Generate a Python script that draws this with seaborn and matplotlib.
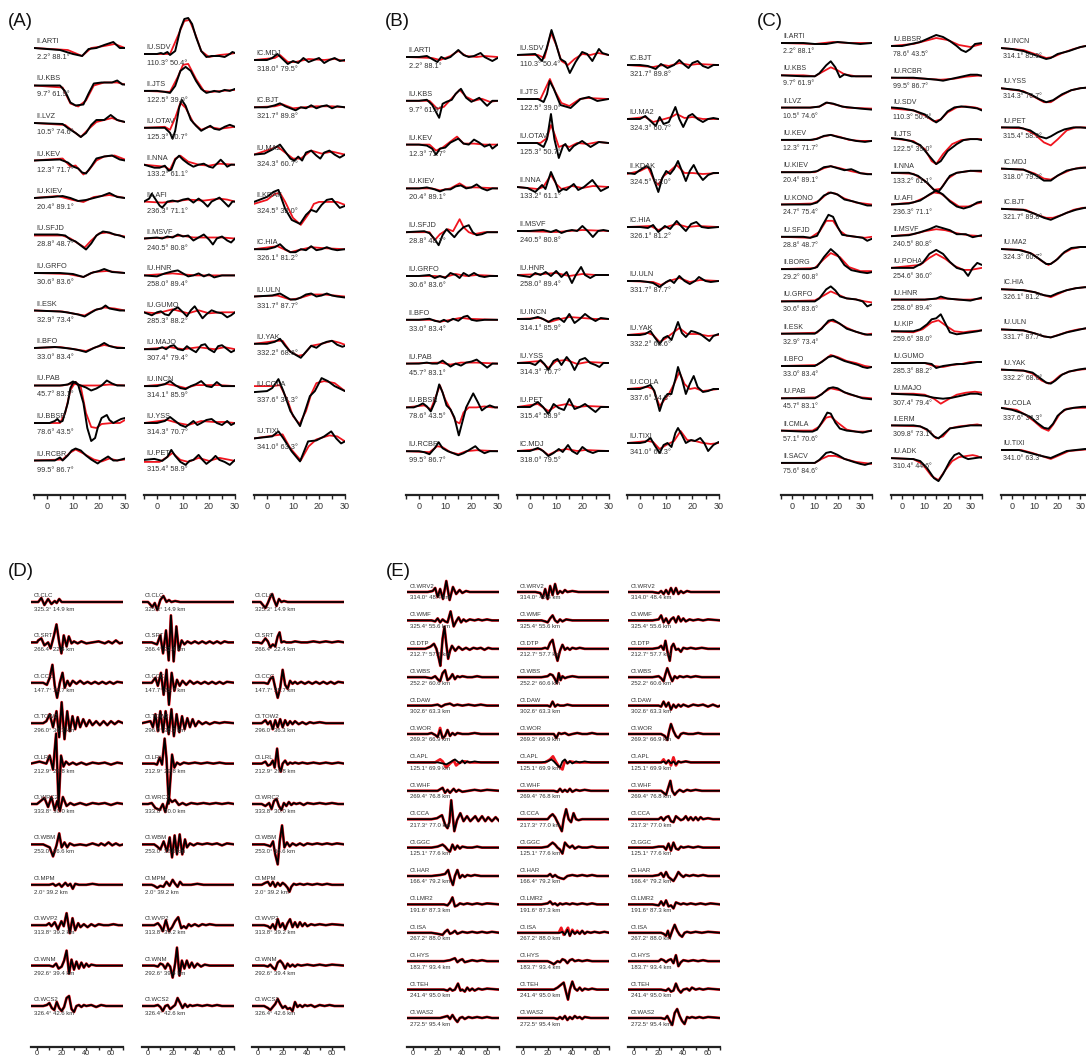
import numpy as np
import pandas as pd
import matplotlib
matplotlib.use("Agg")
import matplotlib.pyplot as plt
import matplotlib.transforms as mtransforms
from matplotlib.ticker import MultipleLocator
import seaborn as sns

sns.set_style("white")
plt.rcParams['font.family'] = ['Liberation Sans', 'DejaVu Sans']

# ---------------- panel A (time s, amplitude) ----------------
A1_sta = ["II.ARTI", "IU.KBS", "II.LVZ", "IU.KEV", "IU.KIEV", "IU.SFJD", "IU.GRFO", "II.ESK", "II.BFO", "IU.PAB", "IU.BBSR", "IU.RCBR"]
A1_lab = ["2.2° 88.1°", "9.7° 61.9°", "10.5° 74.6°", "12.3° 71.7°", "20.4° 89.1°", "28.8° 48.7°", "30.6° 83.6°", "32.9° 73.4°", "33.0° 83.4°", "45.7° 83.1°", "78.6° 43.5°", "99.5° 86.7°"]
A1_obs = [
    [(-5,0),(5,-2),(10,-6),(13.5,-8),(16,-1),(19,0),(22,3),(25.5,6),(28,0),(30,0)],
    [(-5,0),(5,0),(7,-6),(9,-17),(11,-20),(14,-19),(16,-8),(18,2),(21,3),(25,3),(27,5),(29,1),(30,1)],
    [(-5,0),(6,-1),(8,-5),(11,-10),(13,-14),(15,-10),(17,-2),(19,3),(22,3),(24.5,8),(27,3),(30,1)],
    [(-5,0),(5,1),(8,-2),(10,-6),(12,-8),(13.5,-12),(15,-13),(17,-6),(19,2),(22,4),(25,5),(28,1),(30,0)],
    [(-5,0),(2,1),(6,2),(9,0),(12,-3),(15,-2),(18,0),(21,2),(24,5),(27,1),(30,0)],
    [(-5,1),(4,1),(7,0),(9,-4),(11,-6),(13,-10),(15,-14),(17,-8),(19,0),(21.5,4),(24,3),(26,1),(28,0),(30,-2)],
    [(-5,0),(5,0),(10,-1),(14,-4),(17,0),(20,2),(22,4),(25,1),(30,0)],
    [(-5,0),(5,-1),(8,-2),(10,-3),(12,-4),(14.5,-6),(17,-2),(19,1),(21,2),(22.5,5),(24,2),(26,1),(28,0),(30,0)],
    [(-5,0),(3,1),(7,0),(10,-1),(12,-2),(15,-4),(18,0),(20,2),(22,5),(24,2),(27,0),(30,0)],
    [(-5,0),(5,0),(8,1),(10,4),(12,1),(15,-2),(17,-5),(19,-3),(21,0),(23,5),(25,2),(27,0),(30,0)],
    [(-5,0),(1,0),(3,2),(4,4),(5,1),(6,2),(8,20),(9,35),(10,40),(11,41),(12,38),(14,20),(15.5,-5),(17,-18),(18.5,-15),(19.5,-5),(21,5),(23,8),(24,3),(25.5,0),(27,2),(28.5,4),(30,5)],
    [(-5,0),(3,0),(5,3),(6,0),(8,5),(9.5,10),(11,12),(13,10),(15,5),(17,1),(19.5,-3),(21,0),(23.5,4),(25.5,0),(27,0),(30,2)],
]
A1_syn = [
    [(-5,0),(8,-2),(13.5,-8),(17,0),(22,2),(26,4),(30,0)],
    [(-5,0),(6,-2),(9,-18),(12,-21),(15,-15),(18,0),(22,3),(27,3),(30,1)],
    [(-5,0),(7,-2),(10,-8),(13,-14),(16,-6),(19,1),(22,3),(25,5),(28,2),(30,1)],
    [(-5,0),(6,2),(9,-6),(11,-5),(14,-14),(16,-10),(19,0),(22,4),(26,5),(30,1)],
    [(-5,0),(4,2),(10,-2),(14,-4),(18,1),(24,3),(30,0)],
    [(-5,0),(6,0),(9,-3),(12,-8),(14.5,-12),(17,-5),(20,2),(23,3),(26,1),(30,-1)],
    [(-5,0),(8,-1),(14,-4),(18,1),(23,2),(30,0)],
    [(-5,0),(6,-1),(10,-3),(14.5,-5),(18,0),(22,3),(26,2),(30,0)],
    [(-5,0),(5,1),(10,-1),(15,-3),(19,1),(22,3),(26,1),(30,0)],
    [(-5,0),(6,0),(10,2),(13,0),(20,0),(24,1),(30,0)],
    [(-5,0),(5,0),(7,10),(9,33),(11,41),(13,36),(15,10),(17,-4),(19,-5),(21,-1),(25,0),(28,0),(30,3)],
    [(-5,0),(6,1),(9,8),(11,11),(14,7),(18,1),(21,-1),(24,2),(27,0),(30,1)],
]
A2_sta = ["IU.SDV", "II.JTS", "IU.OTAV", "II.NNA", "IU.AFI", "II.MSVF", "IU.HNR", "IU.GUMO", "IU.MAJO", "IU.INCN", "IU.YSS", "IU.PET"]
A2_lab = ["110.3° 50.4°", "122.5° 39.0°", "125.3° 50.7°", "133.2° 61.1°", "236.3° 71.1°", "240.5° 80.8°", "258.0° 89.4°", "285.3° 88.2°", "307.4° 79.4°", "314.1° 85.9°", "314.3° 70.7°", "315.4° 58.9°"]
A2_obs = [
    [(-5,0),(0,0),(1.5,1),(2.5,0),(4,2),(5,-1),(7,3),(9,25),(10.5,35),(12,36),(13.5,30),(15,17),(17,3),(19,-3),(21,-2),(24,-2),(26,-3),(28,0),(29,2),(30,1)],
    [(-5,0),(0,0),(3,-1),(5,-2),(7,5),(9,20),(11,24),(13,20),(15,10),(17,2),(19,-2),(22,0),(24,-1),(26,1),(28,0),(30,2)],
    [(-5,0),(0,0),(3,0),(5,-5),(6,-11),(7,-3),(8.5,20),(9.5,28),(11,22),(13,8),(15,2),(17,-3),(19,0),(20.5,2),(22,-1),(24,-2),(26,1),(28,3),(30,1)],
    [(-5,0),(-1,-3),(1,-3),(3,-1),(4.5,-6),(5.5,-5),(7,5),(8.5,9),(10,5),(12,1),(14,-2),(16,0),(18,1),(20,-2),(21.5,-3),(23,1),(24.5,5),(26,1),(27,-2),(28.5,0),(30,0)],
    [(-5,0),(-3,3),(-2,8),(-1,4),(1,-4),(2,-6),(4,0),(6,1),(8,0),(10,2),(12,3),(14,-1),(16,3),(18,-1),(19.5,-5),(21,0),(22.5,2),(24,4),(26,-1),(27.5,-5),(29,0),(30,0)],
    [(-5,0),(0,1),(2,0),(4,2),(6,1),(8,4),(10,2),(12,3),(14,-2),(16,1),(18,4),(20,-1),(21.5,-6),(23,0),(25,2),(27,-2),(28.5,-4),(30,0)],
    [(-5,0),(0,-1),(3,2),(6,4),(8,5),(10,2),(12,-1),(14,0),(16,2),(18,-1),(20,1),(22,-2),(25,0),(30,0)],
    [(-5,0),(-2,-3),(0,0),(1.5,1),(3,-2),(4.5,-3),(6,2),(8,5),(10,0),(11.5,-4),(13,2),(14.5,6),(16,0),(17.5,-6),(19,-2),(21,2),(23,0),(25,-1),(27,-5),(28.5,-3),(30,0)],
    [(-5,0),(0,0),(2,2),(3.5,0),(5,3),(6.5,4),(8,0),(10,-1),(11.5,3),(13,0),(15,-3),(17,4),(18.5,5),(20,0),(22,-3),(23.5,3),(25,4),(27,0),(28.5,-3),(30,-1)],
    [(-5,0),(0,0),(3,2),(5,5),(7,1),(9,-2),(11,-3),(13,0),(15,2),(17,5),(19,0),(21,-1),(23,4),(25,0),(27,0),(30,0)],
    [(-5,0),(0,0),(3,2),(5,6),(7,2),(9,-2),(11,-4),(12.5,-1),(14,2),(15.5,-2),(17,0),(19,3),(21,4),(23,0),(25,-2),(27,2),(28.5,-2),(30,0)],
    [(-5,0),(-1,1),(2,-1),(4,3),(5.5,10),(7,4),(9,-2),(11,-5),(12.5,-1),(14,0),(16,5),(17.5,0),(19,-4),(21,0),(22.5,4),(24,0),(26,-2),(28,-5),(30,0)],
]
A2_syn = [
    [(-5,0),(5,0),(8,18),(10.5,33),(12.5,34),(15,18),(17,3),(20,-3),(24,-1),(28,0),(30,1)],
    [(-5,0),(5,-1),(8,14),(10,26),(12,27),(15,12),(18,0),(21,-1),(25,0),(30,1)],
    [(-5,0),(3,1),(5,-2),(7,10),(9,25),(11,20),(14,5),(17,-2),(20,1),(24,-1),(30,1)],
    [(-5,0),(3,-2),(5,-5),(7,6),(9,9),(12,3),(16,0),(20,-1),(24,1),(30,0)],
    [(-5,0),(2,-1),(6,0),(12,2),(18,1),(24,3),(27,2),(30,0)],
    [(-5,0),(4,1),(9,3),(14,1),(19,1),(25,1),(30,0)],
    [(-5,0),(6,2),(10,1),(15,0),(20,0),(30,0)],
    [(-5,0),(0,-1),(6,3),(12,-1),(16,2),(20,-1),(25,0),(30,0)],
    [(-5,0),(5,2),(10,0),(16,2),(22,0),(26,2),(30,0)],
    [(-5,0),(4,2),(8,0),(11,-2),(15,1),(19,1),(24,1),(30,0)],
    [(-5,0),(4,3),(8,0),(12,-2),(17,2),(22,1),(26,1),(30,0)],
    [(-5,-2),(1,-2),(4,3),(6,7),(9,0),(12,-2),(16,2),(20,-1),(24,2),(30,-1)],
]
A3_sta = ["IC.MDJ", "IC.BJT", "IU.MA2", "II.KDAK", "IC.HIA", "IU.ULN", "IU.YAK", "IU.COLA", "IU.TIXI"]
A3_lab = ["318.0° 79.5°", "321.7° 89.8°", "324.3° 60.7°", "324.5° 32.0°", "326.1° 81.2°", "331.7° 87.7°", "332.2° 68.6°", "337.6° 34.3°", "341.0° 63.3°"]
A3_obs = [
    [(-5,0),(0,0),(2,2),(4,6),(6,1),(8,-4),(10,-1),(12,-3),(14,2),(16,-2),(18,0),(20,2),(22,-3),(24,0),(26,2),(28,-1),(30,0)],
    [(-5,0),(0,0),(3,2),(5,4),(7,1),(9,-1),(11,-3),(13,0),(15,-1),(17,2),(19,-1),(21,1),(23,2),(25,-1),(27,1),(30,0)],
    [(-5,0),(-1,1),(2,5),(5,10),(7,3),(9,-4),(10.5,-6),(12,-2),(13.5,-6),(15,2),(17,4),(19,-1),(20.5,-4),(22,2),(24,4),(26,0),(28,-3),(30,0)],
    [(-5,0),(0,5),(2.5,10),(4.4,12),(7,-7),(9.5,-18),(12.7,-22),(15,-13),(17,-8),(19,-10),(21,-3),(23,2),(25,3),(28,-6),(30,-4)],
    [(-5,0),(0,0),(3,2),(5,5),(7,0),(9,-3),(11,-3),(13,0),(15,-1),(17,3),(19,-1),(21,0),(23,2),(25,0),(27,-1),(30,0)],
    [(-5,0),(2,1),(5,3),(7,0),(9,-3),(11,-3),(13,-1),(15,2),(17,3),(19,0),(21,1),(23,3),(25,1),(27,0),(30,-1)],
    [(-5,0),(0,0),(3,2),(5,5),(7,-2),(9,-8),(11,-11),(13,-14),(15,-8),(17,-2),(19,-4),(21,0),(23,2),(25,3),(27,-1),(29,-3),(30,-2)],
    [(-5,-1),(0,0),(2,3),(4.4,12),(6.3,0),(9,-20),(12.7,-35),(15,-17),(16.5,-5),(18.4,0),(21,13),(23.4,10),(26,5),(30,0)],
    [(-5,0),(2,2),(4.4,7),(6.3,0),(9.5,-13),(12.7,-23),(15.8,-3),(19,-2),(22,2),(24.7,7),(26.6,0),(28.5,-5),(30,-3)],
]
A3_syn = [
    [(-5,0),(3,2),(5,5),(8,-2),(11,-2),(16,1),(22,0),(26,1),(30,-1)],
    [(-5,0),(3,1),(6,3),(10,-1),(14,0),(19,1),(25,1),(30,0)],
    [(-5,0),(2,6),(4,8),(7,2),(10,-4),(13,-4),(17,4),(21,1),(25,3),(30,0)],
    [(-5,-2),(0,2),(3,8),(5,9),(7,0),(10,-16),(13,-23),(16,-12),(18,-2),(20,0),(24,0),(27,0),(30,-3)],
    [(-5,0),(4,3),(9,-3),(12,-1),(17,2),(22,1),(30,0)],
    [(-5,0),(4,1),(9,-3),(12,-2),(17,2),(22,2),(26,1),(30,0)],
    [(-5,0),(4,3),(6,3),(9,-8),(12,-12),(14,-11),(17,-2),(21,0),(25,3),(28,1),(30,-1)],
    [(-5,5),(2,5),(5,6),(8,-10),(10,-25),(12.5,-33),(15,-20),(17,-3),(19,8),(22,10),(26,8),(30,0)],
    [(-5,0),(3,3),(6,4),(9,-10),(13,-22),(16,-8),(19,-1),(24,3),(27,2),(30,-3)],
]

# ---------------- panel B ----------------
B1_sta = ["II.ARTI", "IU.KBS", "IU.KEV", "IU.KIEV", "IU.SFJD", "IU.GRFO", "II.BFO", "IU.PAB", "IU.BBSR", "IU.RCBR"]
B1_lab = ["2.2° 88.1°", "9.7° 61.9°", "12.3° 71.7°", "20.4° 89.1°", "28.8° 48.7°", "30.6° 83.6°", "33.0° 83.4°", "45.7° 83.1°", "78.6° 43.5°", "99.5° 86.7°"]
B1_obs = [
    [(-5,0),(0,0),(3,1),(5,-2),(7,-5),(8.5,0),(10,-2),(12,0),(15,7),(17,2),(19,0),(21,1),(23.5,4),(25,0),(28,-4),(30,-1)],
    [(-5,0),(0,0),(3,1),(5,-4),(7.7,-17),(9,-3),(10.5,-1),(12.5,1),(14,7),(16,12),(18,3),(20,-1),(23,3),(26,-5),(28,0),(30,0)],
    [(-5,0),(0,0),(3,-1),(5,-4),(6.5,-10),(8,-4),(10,-3),(12,2),(15,6),(17,1),(19,0),(21,5),(23,2),(25,-2),(27,0),(28,-4),(30,0)],
    [(-5,0),(0,0),(3,1),(6,-1),(8,-3),(10,-1),(12,-1),(14,2),(16,3),(18,0),(20,1),(22,4),(24,0),(26,-2),(28,0),(30,0)],
    [(-5,0),(2,1),(4,-1),(6,-7),(7.5,-13),(9,-3),(10.5,3),(12,-1),(13.5,-5),(15,0),(17,5),(19,7),(20.5,0),(22,-3),(24,-2),(26,0),(30,0)],
    [(-5,0),(0,0),(4,1),(6,-2),(8,0),(10,-2),(12,3),(14,1),(15.5,-2),(17,3),(19,0),(21,3),(23,0),(25,-1),(27,0),(30,0)],
    [(-5,0),(0,0),(4,1),(6,-1),(8,-2),(9.5,0),(11,-2),(13,1),(15,-1),(17,3),(18.5,4),(20,0),(22,-1),(25,0),(30,0)],
    [(-5,0),(0,0),(3,1),(5,0),(7,0),(9,3),(10.5,0),(12,-3),(14,0),(16,-2),(18,1),(20,2),(22,4),(24,0),(26,-4),(28,0),(30,0)],
    [(-5,0),(-2,0),(0,2),(1.5,4),(3,1),(4.5,-4),(6,5),(7.7,23),(9,15),(10.5,2),(12,-2),(13.5,-10),(15.2,-28),(16.5,-15),(18,0),(20.7,14),(22.5,5),(24,-3),(25.5,0),(27,2),(29,0),(30,0)],
    [(-5,0),(0,0),(2,-1),(4,-3),(6,3),(7.5,9),(9,3),(11,0),(13,-2),(15,-4),(17,-2),(19,1),(21.5,5),(23,1),(25,-2),(27,0),(30,0)],
]
B1_syn = [
    [(-5,0),(5,-1),(8,-3),(12,1),(15,6),(18,1),(22,0),(25,1),(30,0)],
    [(-5,0),(4,0),(7,-8),(9.5,-6),(12,1),(15.5,11),(18,4),(21,0),(24,2),(27,-1),(30,0)],
    [(-5,0),(4,0),(6.5,-6),(9,-3),(12,3),(14.5,8),(17,1),(21,1),(25,0),(30,0)],
    [(-5,0),(5,0),(8,-2),(12,0),(15.5,5),(18,1),(22,1),(30,0)],
    [(-5,0),(4,0),(6,-8),(8,-2),(11,3),(13,1),(15.5,13),(17,5),(19,0),(21,-2),(25,0),(30,0)],
    [(-5,0),(6,0),(10,-1),(14,2),(18,0),(22,1),(30,0)],
    [(-5,0),(5,0),(8,-2),(12,0),(16,2),(19,1),(30,0)],
    [(-5,0),(8,1),(12,-1),(16,1),(22,1),(30,0)],
    [(-5,0),(2,2),(4.5,-2),(6,8),(8,22),(10,8),(12,-2),(14,-14),(15.5,-16),(17,-5),(19,0),(22,0),(25,1),(28,0),(30,0)],
    [(-5,0),(4,-1),(7,5),(9,4),(12,-1),(15,-3),(18,0),(22,1),(30,0)],
]
B2_sta = ["IU.SDV", "II.JTS", "IU.OTAV", "II.NNA", "II.MSVF", "IU.HNR", "IU.INCN", "IU.YSS", "IU.PET", "IC.MDJ"]
B2_lab = ["110.3° 50.4°", "122.5° 39.0°", "125.3° 50.7°", "133.2° 61.1°", "240.5° 80.8°", "258.0° 89.4°", "314.1° 85.9°", "314.3° 70.7°", "315.4° 58.9°", "318.0° 79.5°"]
B2_obs = [
    [(-5,0),(2,1),(4.6,-6),(6.3,6),(8.2,25),(9.7,13),(11.6,-4),(13.5,-7),(15.2,-18),(17.4,-7),(19.9,3),(21.8,1),(23.8,-6),(26.3,6),(27.6,2),(30,0)],
    [(-5,0),(3,0),(5.2,-3),(6.5,5),(7.5,18),(9.1,10),(11.6,-6),(15.5,-9),(19.3,0),(22.5,2),(25.7,-2),(30,0)],
    [(-5,0),(2.7,0),(5.2,-4),(6.5,4),(8,29),(9.3,4),(11,-15),(12.6,-3),(13.5,-1),(15,-8),(16.7,-3),(19.9,2),(23.1,-4),(26.3,1),(30,0)],
    [(-5,0),(-1,-1),(2,-5),(4.6,2),(5.9,-2),(8,15),(9.7,5),(11,-5),(12.6,-2),(13.9,-3),(16.7,3),(18.4,-3),(20.6,0),(23.8,7),(27,-4),(30,0)],
    [(-5,0),(0,0),(5,1),(8,-1),(10,1),(12,-2),(14,0),(16,1),(18,0),(20,5),(22,0),(24,-6),(26,0),(28,1),(30,0)],
    [(-5,0),(0,-2),(2,2),(4,0),(6,3),(8,-1),(10,4),(12,-2),(14,3),(16,-8),(17.5,0),(19.5,8),(21,0),(23,-3),(25,0),(28,0),(30,0)],
    [(-5,0),(0,0),(3,2),(5,0),(7,-3),(9,0),(11,1),(13,-3),(15,5),(17,-4),(19,0),(21,5),(23,1),(25,-2),(27,1),(30,0)],
    [(-5,0),(0,0),(2,-2),(4,3),(5.5,-1),(7,-7),(9,2),(10.5,4),(12,-2),(14,6),(15.5,1),(17,-7),(19,3),(21,5),(23,0),(25,-2),(26.5,-4),(28,0),(30,0)],
    [(-5,0),(0,0),(3,5),(5,0),(7,-7),(9,3),(11,-1),(13,-3),(15,8),(17,-2),(19,0),(21,3),(23,-1),(25,-5),(27,0),(30,0)],
    [(-5,0),(0,0),(3,3),(5,0),(7,-5),(9,-2),(11,2),(12.5,-1),(14.5,6),(16,0),(18,-3),(20,4),(22,0),(24,-2),(26,0),(30,0)],
]
B2_syn = [
    [(-5,0),(3,0),(5.5,-3),(8,22),(10,10),(12,-6),(14.5,-10),(17,-4),(20,1),(23,0),(26,2),(30,0)],
    [(-5,0),(4,0),(7.6,20),(9.5,8),(12,-4),(15,-7),(19,0),(22,1),(30,0)],
    [(-5,0),(4,0),(6.5,5),(8,18),(9.5,8),(11,-4),(13,-2),(15,-4),(18,0),(22,-1),(26,1),(30,0)],
    [(-5,0),(3,-2),(5,0),(8,12),(10,3),(12,-2),(16,1),(20,-1),(24,1),(30,0)],
    [(-5,0),(10,-1),(15,0),(20,1),(30,0)],
    [(-5,0),(5,1),(10,2),(15,-1),(20,1),(25,0),(30,0)],
    [(-5,0),(4,1),(7.5,-3),(10,-1),(15,2),(20,1),(25,0),(30,0)],
    [(-5,0),(4,2),(7,-5),(10,2),(14,3),(18,-1),(22,1),(30,0)],
    [(-5,0),(3,3),(7,-4),(10,1),(14,3),(18,0),(22,1),(30,0)],
    [(-5,0),(4,2),(7,-4),(10,0),(14,2),(18,0),(21,1),(30,0)],
]
B3_sta = ["IC.BJT", "IU.MA2", "II.KDAK", "IC.HIA", "IU.ULN", "IU.YAK", "IU.COLA", "IU.TIXI"]
B3_lab = ["321.7° 89.8°", "324.3° 60.7°", "324.5° 32.0°", "326.1° 81.2°", "331.7° 87.7°", "332.2° 68.6°", "337.6° 34.3°", "341.0° 63.3°"]
B3_obs = [
    [(-5,0),(0,0),(3,-1),(6,-4),(8,1),(10.5,-3),(13,0),(15,5),(17,0),(18.5,-3),(20,2),(22,4),(24,-1),(26,-3),(28,0),(30,0)],
    [(-5,0),(0,0),(2,3),(4,-2),(6,-7),(7.5,2),(9,-5),(11,-3),(13.5,12),(15,0),(16.5,-8),(18.5,3),(20,5),(22,0),(24,-3),(26,0),(28,1),(30,0)],
    [(-5,0),(-2,-1),(0,3),(2.5,7),(4,4),(5.5,-8),(7,-19),(8.5,-5),(10,2),(11.5,-1),(13,4),(14.5,12),(16,2),(17.5,-8),(19,2),(20.5,8),(22,0),(24,-7),(26,-2),(28,0),(30,0)],
    [(-5,0),(0,0),(3,-1),(5,2),(7,-5),(9.5,1),(11.5,-2),(14,6),(16,0),(17.5,-4),(19.5,3),(21.5,5),(23.5,0),(26,-1),(30,0)],
    [(-5,0),(0,0),(3,-1),(5,-2),(7.5,-6),(10,-1),(11.5,1),(13,-2),(15,5),(17,0),(19,-3),(21,0),(22.5,4),(25,0),(27,-1),(30,0)],
    [(-5,0),(0,0),(2,1),(4,4),(5.5,-2),(7.5,-9),(9,-3),(10.5,-1),(12,-5),(14.5,13),(16,2),(17.5,-2),(19.5,4),(21,3),(23,1),(25,-3),(26.5,-6),(28,-1),(30,1)],
    [(-5,0),(0,0),(2,2),(4,4),(5.5,-2),(7.5,-22),(9,-10),(10.5,-5),(12,-5),(13.5,10),(14.5,22),(16,10),(17.5,-5),(19,5),(20.5,13),(22,2),(24,-3),(26,-2),(28,0),(30,0)],
    [(-5,0),(0,0),(2,1),(4,5),(5.5,-2),(7.5,-10),(9,-2),(10.5,0),(12,-4),(13.5,10),(14.5,15),(16,8),(17.5,0),(19.5,3),(21,2),(23,5),(24.5,0),(26,-8),(28,-2),(30,1)],
]
B3_syn = [
    [(-5,0),(5,-2),(9,0),(11,-1),(15,2),(19,0),(22,1),(30,0)],
    [(-5,0),(2,2),(5,-3),(8,-1),(12,2),(14,5),(17,1),(20,2),(24,0),(30,0)],
    [(-5,-1),(0,2),(3,6),(5.5,-8),(7,-12),(9,-3),(11,1),(14,8),(17,0),(20,0),(24,-1),(30,0)],
    [(-5,0),(4,1),(7,-3),(10,0),(14,3),(18,0),(22,1),(30,0)],
    [(-5,0),(5,-1),(8,-4),(11,0),(15,3),(19,-1),(23,1),(30,0)],
    [(-5,0),(3,2),(5,0),(7.5,-7),(10,-3),(13,3),(15,7),(18,1),(22,1),(26,-1),(30,0)],
    [(-5,0),(3,2),(5,0),(7.5,-17),(9,-12),(11,-5),(13,5),(15,17),(17,5),(19,0),(21,1),(24,-2),(30,0)],
    [(-5,0),(3,2),(5,1),(7.5,-6),(10,-2),(13,2),(15.5,12),(18,3),(21,2),(24,0),(27,-1),(30,0)],
]

# ---------------- panel C ----------------
C1_sta = ["II.ARTI", "IU.KBS", "II.LVZ", "IU.KEV", "IU.KIEV", "IU.KONO", "IU.SFJD", "II.BORG", "IU.GRFO", "II.ESK", "II.BFO", "IU.PAB", "II.CMLA", "II.SACV"]
C1_lab = ["2.2° 88.1°", "9.7° 61.9°", "10.5° 74.6°", "12.3° 71.7°", "20.4° 89.1°", "24.7° 75.4°", "28.8° 48.7°", "29.2° 60.8°", "30.6° 83.6°", "32.9° 73.4°", "33.0° 83.4°", "45.7° 83.1°", "57.1° 70.6°", "75.6° 84.6°"]
C1_obs = [
    [(-5,0),(5,0),(10,-1),(15,-1),(20,1),(25,0),(30,-1),(35,0)],
    [(-5,0),(5,-1),(10,-1),(12,2),(15,10),(17,14),(19,8),(21,-2),(23,1),(26,-1),(30,-1),(35,-1)],
    [(-5,0),(8,0),(12,1),(15,5),(18,4),(22,1),(26,0),(30,-1),(35,-2)],
    [(-5,0),(8,0),(11,1),(14,4),(17,5),(20,3),(24,1),(28,-1),(32,-2),(35,-1)],
    [(-5,0),(8,0),(11,1),(14,5),(17,6),(20,4),(23,2),(26,3),(30,-1),(33,-2),(35,-2)],
    [(-5,0),(8,0),(11,2),(14,9),(17,12),(20,10),(23,5),(27,3),(30,1),(33,-1),(35,-1)],
    [(-5,0),(5,0),(8,-1),(11,1),(13,10),(16,22),(18,20),(20,10),(22,2),(25,1),(28,0),(31,-1),(33,-4),(35,-2)],
    [(-5,0),(8,0),(11,2),(14,12),(17,20),(20,14),(23,4),(26,-1),(30,-3),(33,-4),(35,-3)],
    [(-5,0),(10,0),(12,3),(15,12),(17,15),(19,11),(21,5),(24,3),(28,2),(31,0),(33,-5),(35,-3)],
    [(-5,0),(10,0),(13,5),(16,13),(18,14),(21,10),(24,5),(28,2),(31,0),(33,-1),(35,-1)],
    [(-5,0),(10,0),(13,4),(16,9),(18,10),(20,8),(23,5),(26,3),(29,1),(31,-1),(33,-2),(35,-1)],
    [(-5,0),(10,0),(13,4),(16,10),(18,11),(20,10),(23,6),(27,3),(31,0),(35,-1)],
    [(-5,0),(5,-1),(9,-1),(11,1),(13,8),(15.5,18),(17,17),(19,8),(21,2),(24,0),(28,-1),(31,-2),(33,-1),(35,0)],
    [(-5,0),(10,0),(12,3),(15,10),(17,11),(20,8),(23,4),(27,1),(30,-1),(32,-2),(35,0)],
]
C1_syn = [
    [(-5,0),(10,-1),(18,1),(25,0),(35,0)],
    [(-5,0),(5,0),(10,-1),(13,3),(17,8),(20,5),(23,1),(28,-1),(35,-1)],
    [(-5,0),(8,0),(12,1),(15.5,5),(19,3),(24,0),(35,-1)],
    [(-5,0),(9,0),(13,3),(17,5),(21,3),(25,0),(30,-1),(35,-1)],
    [(-5,0),(10,0),(14,4),(17,6),(21,4),(26,1),(30,-1),(35,-2)],
    [(-5,0),(9,1),(12,4),(16,12),(19,11),(23,6),(28,2),(35,0)],
    [(-5,0),(8,-1),(12,5),(15,16),(18,16),(21,6),(24,1),(28,0),(32,-1),(35,0)],
    [(-5,0),(10,1),(14,10),(17,16),(21,12),(25,2),(30,-2),(35,-2)],
    [(-5,0),(10,1),(14,6),(17,10),(20,7),(24,3),(28,2),(32,0),(35,-1)],
    [(-5,0),(11,1),(14,8),(17,13),(20,11),(24,6),(28,2),(32,-1),(35,0)],
    [(-5,0),(11,1),(14,6),(17,11),(20,9),(24,5),(28,3),(32,0),(35,-1)],
    [(-5,0),(11,1),(14,6),(17,10),(21,8),(25,4),(30,1),(35,0)],
    [(-5,0),(9,0),(12,4),(15,13),(17,14),(20,8),(24,1),(28,-1),(32,-1),(35,0)],
    [(-5,0),(10,0),(13,4),(16,7),(19,7),(23,4),(28,1),(35,-1)],
]
C2_sta = ["IU.BBSR", "IU.RCBR", "IU.SDV", "II.JTS", "II.NNA", "IU.AFI", "II.MSVF", "IU.POHA", "IU.HNR", "IU.KIP", "IU.GUMO", "IU.MAJO", "II.ERM", "IU.ADK"]
C2_lab = ["78.6° 43.5°", "99.5° 86.7°", "110.3° 50.4°", "122.5° 39.0°", "133.2° 61.1°", "236.3° 71.1°", "240.5° 80.8°", "254.6° 36.0°", "258.0° 89.4°", "259.6° 38.0°", "285.3° 88.2°", "307.4° 79.4°", "309.8° 73.1°", "310.4° 44.6°"]
C2_obs = [
    [(-5,0),(0,0),(4,2),(8,4),(12,8),(15,11),(18,9),(21,5),(24,0),(26,-4),(28,-6),(30,-3),(32,2),(35,3)],
    [(-5,0),(5,0),(10,-1),(15,-2),(18,-3),(22,-1),(26,1),(30,3),(33,3),(35,2)],
    [(-5,2),(0,1),(5,-1),(10,-5),(13,-10),(15,-13),(17,-10),(20,-2),(23,2),(26,3),(30,2),(33,1),(35,-1)],
    [(-5,3),(0,2),(4,0),(8,-4),(12,-15),(15,-23),(17,-20),(20,-10),(24,-3),(27,1),(30,2),(33,2),(35,1)],
    [(-5,0),(3,0),(7,-3),(11,-10),(14,-17),(16,-19),(18,-13),(21,-3),(24,0),(27,1),(30,2),(35,2)],
    [(-5,0),(3,1),(8,4),(12,10),(15,14),(18,10),(21,3),(24,-2),(27,-4),(30,-2),(33,2),(35,3)],
    [(-5,0),(3,1),(8,4),(12,7),(15,10),(18,8),(21,6),(24,2),(28,2),(31,-1),(33,0),(35,1)],
    [(-5,0),(5,0),(9,5),(12,14),(15,18),(18,14),(21,6),(24,0),(27,-2),(29,-8),(31,0),(33,5),(35,3)],
    [(-5,0),(10,0),(15,1),(17,3),(20,1),(25,0),(30,-1),(35,2)],
    [(-5,0),(5,0),(8,2),(11,7),(13,12),(15,13),(17,17),(19,8),(21,-1),(24,-3),(27,-2),(30,-1),(33,0),(35,1)],
    [(-5,0),(10,0),(13,-1),(15,-5),(18,-3),(21,-2),(24,-1),(27,-1),(30,0),(33,1),(35,1)],
    [(-5,1),(5,0),(10,-1),(14,-3),(18,-4),(22,-3),(26,-1),(30,1),(33,1),(35,0)],
    [(-5,1),(5,1),(8,0),(11,-3),(14,-10),(16,-12),(18,-8),(21,-2),(24,-1),(27,0),(30,1),(33,1),(35,1)],
    [(-5,0),(5,-1),(8,-3),(11,-10),(14,-20),(16,-23),(18,-16),(21,-3),(23,3),(25,5),(27,1),(29,-1),(32,0),(35,1)],
]
C2_syn = [
    [(-5,0),(5,2),(10,5),(15,8),(20,6),(25,1),(30,-1),(35,2)],
    [(-5,0),(10,-1),(17,-2),(23,-1),(28,1),(33,2),(35,2)],
    [(-5,1),(5,-1),(10,-6),(14,-12),(17,-10),(20,-3),(24,2),(28,3),(32,2),(35,0)],
    [(-5,3),(5,0),(10,-8),(13,-20),(15,-23),(18,-13),(22,-3),(26,1),(30,2),(35,2)],
    [(-5,0),(5,-1),(10,-8),(14,-17),(17,-16),(20,-6),(24,0),(30,2),(35,1)],
    [(-5,0),(5,2),(10,7),(14,12),(17,11),(21,4),(25,-2),(29,-2),(33,1),(35,2)],
    [(-5,0),(5,2),(10,5),(15,7),(19,6),(24,3),(29,1),(35,0)],
    [(-5,0),(8,3),(12,10),(15,14),(19,9),(23,2),(27,-2),(30,-2),(35,0)],
    [(-5,0),(10,0),(15,1),(20,1),(25,0),(30,0),(35,1)],
    [(-5,0),(5,-1),(9,2),(13,9),(16,11),(19,6),(23,0),(27,-1),(30,0),(35,1)],
    [(-5,0),(10,0),(14,-3),(18,-4),(22,-2),(26,-1),(30,1),(35,1)],
    [(-5,1),(5,1),(10,0),(14,-4),(17,-9),(20,-5),(24,0),(28,2),(32,3),(35,2)],
    [(-5,1),(8,0),(12,-5),(15,-12),(18,-10),(21,-2),(25,0),(29,1),(33,2),(35,1)],
    [(-5,0),(5,-1),(9,-6),(13,-18),(16,-22),(19,-12),(22,-3),(25,1),(28,2),(31,3),(33,2),(35,0)],
]
C3_sta = ["IU.INCN", "IU.YSS", "IU.PET", "IC.MDJ", "IC.BJT", "IU.MA2", "IC.HIA", "IU.ULN", "IU.YAK", "IU.COLA", "IU.TIXI"]
C3_lab = ["314.1° 85.9°", "314.3° 70.7°", "315.4° 58.9°", "318.0° 79.5°", "321.7° 89.8°", "324.3° 60.7°", "326.1° 81.2°", "331.7° 87.7°", "332.2° 68.6°", "337.6° 34.3°", "341.0° 63.3°"]
C3_obs = [
    [(-5,0),(0,-1),(5,-3),(10,-7),(15,-11),(17,-10),(20,-6),(25,-3),(30,1),(35,3)],
    [(-5,0),(3,-2),(8,-6),(12,-11),(15,-14),(18,-12),(22,-6),(26,-2),(30,0),(35,1)],
    [(-5,1),(3,1),(8,-2),(12,-8),(15,-10),(17,-8),(20,-4),(23,-1),(27,1),(30,1),(35,0)],
    [(-5,0),(5,-1),(10,-6),(14,-12),(17,-12),(20,-7),(24,-2),(28,0),(32,1),(35,1)],
    [(-5,0),(5,-1),(10,-5),(14,-9),(17,-11),(20,-8),(24,-4),(28,-1),(32,1),(35,1)],
    [(-5,0),(3,-1),(8,-4),(12,-10),(15,-15),(17,-15),(20,-10),(23,-3),(26,1),(30,2),(35,2)],
    [(-5,0),(5,-1),(10,-3),(14,-6),(17,-7),(20,-4),(24,-1),(28,1),(32,2),(35,2)],
    [(-5,0),(5,-1),(10,-4),(14,-7),(17,-8),(20,-6),(24,-3),(28,-1),(32,1),(35,2)],
    [(-5,0),(5,-1),(9,-3),(12,-8),(15,-13),(17,-14),(19,-11),(22,-5),(25,-2),(29,0),(32,1),(35,1)],
    [(-5,2),(0,0),(4,-3),(8,-7),(11,-13),(14,-18),(16,-19),(18,-14),(20,-6),(23,0),(27,2),(31,3),(35,3)],
    [(-5,0),(3,0),(8,-3),(13,-6),(17,-8),(20,-5),(24,-1),(28,0),(32,1),(35,1)],
]
C3_syn = [
    [(-5,0),(5,-2),(10,-6),(15,-10),(18,-9),(22,-5),(27,-1),(32,2),(35,3)],
    [(-5,0),(5,-3),(10,-9),(14,-14),(17,-14),(21,-8),(26,-2),(30,0),(35,1)],
    [(-5,1),(5,0),(10,-6),(14,-14),(17,-17),(20,-11),(24,-2),(28,1),(32,1),(35,0)],
    [(-5,0),(5,-1),(10,-5),(14,-10),(17,-11),(21,-6),(26,-1),(30,1),(35,1)],
    [(-5,0),(6,-1),(11,-6),(15,-9),(18,-9),(22,-6),(27,-1),(31,1),(35,1)],
    [(-5,0),(4,-1),(9,-5),(13,-12),(16,-16),(19,-12),(22,-5),(26,0),(30,2),(35,2)],
    [(-5,0),(5,-1),(10,-3),(14,-6),(17,-8),(20,-5),(24,-1),(28,1),(32,2),(35,2)],
    [(-5,0),(5,-1),(10,-4),(14,-7),(17,-8),(21,-5),(25,-2),(29,0),(33,1),(35,2)],
    [(-5,0),(5,-1),(9,-4),(13,-11),(16,-14),(18,-12),(21,-6),(25,-2),(30,0),(35,1)],
    [(-5,2),(2,0),(6,-5),(10,-12),(13,-18),(16,-21),(18,-15),(21,-4),(24,1),(28,2),(32,2),(35,3)],
    [(-5,0),(4,0),(9,-3),(13,-6),(17,-9),(21,-5),(25,-1),(30,0),(35,1)],
]

# ---------------- panel D ----------------
D_sta = ["CI.CLC", "CI.SRT", "CI.CCC", "CI.TOW2", "CI.LRL", "CI.WRC2", "CI.WBM", "CI.MPM", "CI.WVP2", "CI.WNM", "CI.WCS2"]
D_lab = ["325.3° 14.9 km", "266.4° 22.4 km", "147.7° 25.7 km", "296.0° 36.3 km", "212.9° 29.8 km", "333.8° 30.0 km", "253.0° 36.6 km", "2.0° 39.2 km", "313.8° 39.2 km", "292.6° 39.4 km", "326.4° 42.6 km"]
D1_obs = [
    [(-5,0),(1,0),(3.5,4),(6,-3),(9,3),(11.7,-2),(14.4,1),(16,-1),(18,3),(20,0),(70,0)],
    [(-5,0),(0,0),(1,2),(3.5,4),(6,-3),(9,0),(11,-6),(13.6,6),(15.8,18),(18,0),(19.8,-11),(21.7,7),(24,-4),(25.8,6),(28,-1),(30,1),(33,-1),(36,1),(40,-1),(45,0),(50,1),(55,-1),(58,1),(61,-1),(64,2),(67,-1),(70,0)],
    [(-5,0),(5,0),(8,-2),(10.3,5),(12.5,18),(14.4,-3),(16.3,-15),(18.5,0),(20.7,10),(22.5,-5),(24.7,2),(26.6,-3),(29,2),(32,-1),(35,2),(38,-1),(41,1),(44,-1),(47,1),(50,-1),(53,1),(56,-1),(59,1),(62,-1),(65,1),(70,0)],
    [(-5,0),(5,0),(7.6,2),(10.3,9),(13,-4),(15.8,12),(18,-14),(20,21),(22.3,-16),(24.5,12),(26.6,-8),(28.8,7),(31,-6),(33,6),(35,-4),(37.5,4),(40,-3),(42.5,3),(45,-2),(48,2),(51,-2),(54,2),(57,-2),(60,2),(63,-1),(66,2),(70,0)],
    [(-5,0),(2,2),(7.6,0),(10.3,8),(13,-6),(15.5,30),(17.5,-42),(19.5,8),(21.5,-3),(23.5,2),(26,-1),(29,1),(32,-1),(36,1),(40,-1),(45,1),(50,0),(55,1),(60,-1),(65,1),(70,0)],
    [(-5,0),(0,0),(2,2),(6,6),(9,-3),(11.7,7),(14.4,-6),(16.3,3),(18.5,-7),(21,7),(24,-2),(27,1),(30,-1),(35,1),(40,-1),(45,1),(50,0),(55,1),(60,-1),(65,1),(70,0)],
    [(-5,0),(5,0),(10.3,-3),(13,-12),(15.8,-1),(18,11),(20,-3),(22.3,2),(24.5,-3),(26.6,1),(30,-1),(35,0),(40,-1),(45,1),(50,-1),(52,1),(55,-1),(58,2),(61,-1),(64,1),(67,-1),(70,0)],
    [(-5,0),(10,0),(13,1),(15,-1),(18,1),(20,-2),(23,2),(25,-1),(27,1),(29,-4),(31,1),(34,0),(40,0),(45,1),(50,0),(55,0),(60,0),(70,0)],
    [(-5,0),(7.6,0),(9.8,2),(11.7,-1),(14.4,3),(17,-4),(19.8,4),(21.7,-1),(24,12),(26.6,-8),(28.8,7),(31,-5),(33.4,2),(35.3,-2),(38,1),(41,-2),(44,1),(47,-1),(50,1),(54,0),(58,0),(62,1),(66,0),(70,0)],
    [(-5,0),(10,0),(13,-1),(15.5,2),(17.5,-3),(20,-1),(22,5),(24,15),(26,-8),(28,6),(30,-4),(32,4),(34,-3),(36,3),(38,-2),(40,2),(42,-1),(44,1),(48,0),(52,0),(58,0),(70,0)],
    [(-5,0),(5,0),(8,1),(10,3),(12,-2),(14,-4),(16,4),(18,-2),(20,-5),(22,-1),(24,8),(26,10),(28,-3),(30,-6),(32,0),(34,1),(36,-1),(38,1),(40,0),(44,1),(48,-1),(52,1),(56,0),(60,0),(70,0)],
]
D2_obs = [
    [(-5,0),(0,0),(1.5,-2),(3.5,-5),(5.5,-1),(7.5,-8),(10,2),(12.5,6),(15,0),(17,2),(19,0),(22,1),(26,0),(70,0)],
    [(-5,0),(3,0),(7.3,-2),(10,7),(12.2,-11),(14.6,12),(16.8,-18),(18.6,27),(20.8,-19),(23,16),(25,-8),(27.3,2),(29.5,-2),(32,1),(35,-1),(38,1),(41,-1),(44,1),(47,-1),(50,1),(53,-1),(56,1),(59,-1),(62,1),(65,0),(70,0)],
    [(-5,0),(3,0),(6,5),(8,-3),(10.5,10),(12.7,-12),(15,13),(17,-22),(19.2,10),(21.4,-8),(23.5,3),(25.7,-3),(28,2),(31,-2),(34,2),(37,-1),(40,1),(43,-1),(46,1),(49,-1),(52,1),(55,-1),(58,1),(61,-1),(64,1),(70,0)],
    [(-5,0),(2,2),(4,-4),(6,9),(8,-8),(10,12),(12.2,-9),(14.3,12),(16.8,-11),(19,14),(21,-13),(23.2,9),(25.4,-9),(27.6,7),(29.7,-6),(31.9,5),(34,-4),(36.2,4),(38.4,-3),(41,2),(44,-1),(47,1),(50,-1),(54,1),(58,0),(62,1),(70,0)],
    [(-5,0),(5,0),(7.3,-1),(9.5,6),(11.4,-1),(13.5,25),(15,5),(16.8,-40),(18.5,-10),(19.5,9),(21.4,-4),(23.5,1),(26,-1),(29,1),(33,0),(38,1),(43,0),(48,1),(53,0),(58,1),(63,0),(70,0)],
    [(-5,0),(0,0),(3,1),(6,-4),(9.5,-6),(12,0),(14,-8),(16.8,6),(19.5,2),(22,4),(25,-1),(28,1),(31,-1),(35,1),(40,0),(45,1),(50,0),(55,1),(60,0),(65,1),(70,0)],
    [(-5,0),(5,0),(7.3,-2),(10,-5),(12.7,3),(15.4,-7),(17.6,7),(19.5,-13),(21.6,9),(23.5,-10),(25.7,10),(27.8,-10),(30,5),(31.6,-3),(34,1),(37,-1),(40,1),(44,0),(48,1),(52,0),(56,1),(60,-1),(64,1),(70,0)],
    [(-5,0),(3,0),(5,-1),(7.5,-3),(10,-1),(12.5,-2),(15,3),(17.5,-1),(20,5),(22,1),(24,-2),(26,3),(28,0),(31,0),(35,0),(40,1),(45,0),(50,0),(55,0),(70,0)],
    [(-5,0),(5,0),(8,2),(10,-1),(12,-6),(14.5,5),(17,-6),(19.5,-2),(22,4),(24.5,8),(27,-3),(29,-1),(31,-3),(33,1),(35,-1),(38,1),(41,-1),(44,1),(47,0),(50,1),(55,0),(60,0),(70,0)],
    [(-5,0),(5,0),(8,-1),(10,2),(12,1),(14,-3),(16,2),(18,-1),(20,-12),(22,2),(23.5,18),(25.5,-10),(27.5,5),(29.5,-3),(31.5,5),(33.5,-2),(35.5,3),(37.5,-2),(40,2),(43,-1),(46,1),(50,0),(55,0),(70,0)],
    [(-5,0),(5,0),(8,1),(10,-1),(12,-5),(14,0),(16,1),(18,-3),(20,-1),(22,1),(24,8),(26,3),(28,-2),(30,2),(32,-1),(34,1),(36,0),(40,1),(44,0),(48,1),(52,0),(56,1),(60,0),(70,0)],
]
D3_obs = [
    [(-5,0),(2,0),(4,-3),(6,-6),(8,-1),(10,5),(11.5,8),(13,2),(15,-4),(17,3),(19,0),(21,1),(24,0),(70,0)],
    [(-5,0),(0,0),(3,-1),(6,4),(8,1),(10,-5),(12,-2),(14,-4),(16,6),(17.5,10),(19,0),(21,1),(23,0),(27,0),(30,1),(35,0),(40,0),(45,1),(50,0),(55,1),(60,0),(65,1),(70,0)],
    [(-5,0),(5,0),(8,-1),(10,4),(12,6),(14,-5),(16,-15),(18,-5),(20,13),(22,-2),(24,-6),(26,2),(28,-1),(30,1),(32,-1),(35,1),(38,-1),(41,1),(44,-1),(47,1),(50,-1),(53,1),(56,-1),(59,1),(62,-1),(65,1),(70,0)],
    [(-5,0),(3,0),(6,3),(8,-1),(10,2),(12,-6),(14,3),(16,-4),(18,4),(20,-4),(22,3),(24,-2),(26,2),(28,-1),(30,2),(33,-1),(36,1),(39,-1),(42,1),(45,0),(50,1),(55,0),(60,0),(70,0)],
    [(-5,0),(3,0),(6,2),(8,-2),(10,-1),(12,3),(13.5,-4),(15.5,15),(17,-3),(18.5,-8),(20,0),(22,3),(24,-1),(26,1),(28,0),(30,1),(33,0),(36,1),(40,0),(45,1),(50,0),(55,1),(60,0),(65,1),(70,0)],
    [(-5,0),(3,0),(6,-2),(9,1),(11,-5),(13,3),(15,5),(17,-2),(19,-6),(21,1),(23,-2),(25,2),(27,-1),(29,1),(31,0),(34,1),(37,-1),(40,1),(45,0),(50,1),(55,0),(60,1),(65,0),(70,0)],
    [(-5,0),(5,0),(8,-1),(10,-2),(12.2,3),(14,-10),(16,-20),(17.6,3),(19.5,19),(21.4,-3),(23.5,2),(25.7,-2),(28,1),(31,-1),(34,1),(37,-1),(40,1),(44,0),(48,1),(52,0),(56,1),(60,0),(64,1),(70,0)],
    [(-5,0),(3,0),(6,2),(8,3),(10,-1),(12,3),(14,-2),(16,2),(18,-1),(20,2),(22,0),(24,-3),(25.5,-7),(27,-2),(29,1),(31,0),(34,1),(37,0),(40,1),(44,0),(48,1),(52,0),(56,1),(60,0),(70,0)],
    [(-5,0),(5,0),(8,-1),(10,-3),(12,1),(14,-4),(16,6),(18,-2),(20,2),(22,-4),(24,2),(26,6),(28,-2),(30,3),(32,-2),(34,3),(36,-1),(38,2),(40,-1),(43,1),(46,0),(50,1),(55,0),(60,1),(70,0)],
    [(-5,0),(5,0),(8,-1),(10,1),(12,-2),(14,-4),(16,3),(18,5),(20,2),(22,-3),(24,2),(26,-1),(28,1),(30,-1),(32,1),(35,0),(40,1),(45,0),(50,1),(55,0),(60,1),(70,0)],
    [(-5,0),(5,0),(8,-2),(10,-4),(12,-1),(14,2),(16,7),(18,2),(20,-2),(22,0),(24,-3),(26,-2),(28,-5),(30,4),(32,-1),(34,1),(36,-1),(38,1),(40,0),(43,1),(46,-1),(50,1),(54,0),(58,1),(62,0),(70,0)],
]
# synthetics in (D) sit on top of the observations
D1_syn = list(D1_obs)
D2_syn = list(D2_obs)
D3_syn = list(D3_obs)

# ---------------- panel E ----------------
E_sta = ["CI.WRV2", "CI.WMF", "CI.DTP", "CI.WBS", "CI.DAW", "CI.WOR", "CI.APL", "CI.WHF", "CI.CCA", "CI.GGC", "CI.HAR", "CI.LMR2", "CI.ISA", "CI.HYS", "CI.TEH", "CI.WAS2"]
E_lab = ["314.0° 48.4 km", "325.4° 55.6 km", "212.7° 57.7 km", "252.2° 60.6 km", "302.6° 63.3 km", "269.3° 66.9 km", "125.1° 69.9 km", "269.4° 76.8 km", "217.3° 77.0 km", "125.1° 77.6 km", "166.4° 79.2 km", "191.6° 87.3 km", "267.2° 88.0 km", "183.7° 93.4 km", "241.4° 95.0 km", "272.5° 95.4 km"]
E1_obs = [
    [(-5,0),(12,0),(16,1),(18,4),(20,-5),(22,3),(24.3,-7),(27,11),(29.7,-8),(32.4,5),(35,-2),(37.8,2),(40,-1),(43,1),(46,0),(50,0),(55,0),(70,0)],
    [(-5,0),(15,0),(18,-1),(20,2),(22,-2),(24,1),(26,-1),(28,-2),(30.5,9),(33,-6),(35,-1),(37,3),(39,-2),(41,1),(43,-1),(46,1),(50,0),(53,1),(56,0),(60,1),(64,0),(70,0)],
    [(-5,0),(10,0),(14,2),(17,5),(19,0),(21,-10),(22.2,-17),(24,10),(25.5,22),(27,5),(28.5,-10),(30,-2),(31.6,3),(34.3,-2),(37,2),(40,-1),(43,1),(46,-1),(49,1),(52,0),(55,1),(58,-1),(61,1),(64,0),(70,0)],
    [(-5,0),(10,0),(15,-1),(18,1),(20,-2),(22,-4),(24,4),(26,7),(28,-3),(30,-1),(32,3),(34,-2),(36,1),(38,0),(40,1),(44,0),(48,0),(52,1),(56,0),(60,0),(70,0)],
    [(-5,0),(15,0),(20,1),(23,-1),(26,1),(30,2),(33,0),(36,1),(40,0),(45,1),(50,0),(55,1),(60,0),(70,0)],
    [(-5,0),(12,0),(15,1),(18,-1),(20,-3),(22,4),(24,-4),(26,-2),(28,4),(30,-2),(32,1),(34,-1),(36,1),(40,0),(45,0),(50,1),(55,0),(60,0),(70,0)],
    [(-5,0),(15,0),(20,0),(24,-1),(27,-2),(30,0),(34,3),(36,1),(38,-1),(40,2),(42,-1),(44,1),(46,0),(50,1),(55,0),(60,0),(70,0)],
    [(-5,0),(15,0),(20,0),(24,3),(26,-2),(28,1),(30,-2),(33,2),(35,-1),(37,1),(40,-1),(45,0),(50,1),(55,0),(60,1),(70,0)],
    [(-5,0),(15,0),(19.5,1),(23.5,4),(26.2,-6),(28,-9),(29.5,-3),(31,19),(33.5,-12),(35.7,-1),(38.4,6),(41,-2),(43.8,3),(46.5,-2),(50.5,3),(53,-2),(56,3),(58.6,-2),(61,2),(64,-2),(67,2),(70,-2)],
    [(-5,0),(15,0),(20,1),(24,3),(26,1),(28,-2),(30,-4),(32,3),(34,-2),(36,2),(38,-1),(40,1),(44,0),(48,0),(52,1),(56,0),(60,0),(70,0)],
    [(-5,0),(15,0),(22,1),(26,2),(28.5,6),(30.5,-3),(32.4,-9),(34,0),(36,6),(38,-2),(40,1),(42,-1),(44,1),(47,0),(50,1),(55,0),(60,0),(70,0)],
    [(-5,0),(15,0),(25,0),(28,-1),(30,2),(32,7),(34,-2),(36,-1),(38,1),(41,0),(44,1),(48,0),(52,1),(56,0),(60,1),(70,0)],
    [(-5,0),(15,0),(20,-1),(24,-2),(26,1),(28,3),(30,-1),(32,0),(34,2),(36,-1),(40,1),(44,0),(48,1),(52,0),(56,1),(60,0),(64,1),(70,0)],
    [(-5,0),(15,0),(25,0),(30,1),(34,3),(36,-1),(38,1),(40,2),(42,-1),(45,0),(48,1),(52,0),(56,1),(60,0),(70,0)],
    [(-5,0),(15,0),(25,0),(28,-1),(30,1),(32,-1),(34,0),(36.5,6),(38.5,-1),(40,0),(42,-2),(44,2),(46,-1),(48,1),(50,-1),(53,1),(56,0),(60,1),(70,0)],
    [(-5,0),(15,0),(22,0),(25,1),(28,2),(30,-1),(32,3),(34,-1),(36,-4),(38,0),(40,1),(42,-1),(45,1),(48,0),(52,1),(56,0),(60,1),(64,0),(70,0)],
]
E2_obs = [
    [(-5,0),(10,0),(14,-1),(16,-6),(18,3),(20,-7),(22,6),(24,-3),(26,8),(28,-2),(30,1),(32,-1),(34,2),(36,0),(40,1),(45,0),(50,0),(55,0),(70,0)],
    [(-5,0),(15,0),(18,-1),(20,-2),(22,2),(24,5),(26,0),(28,-2),(30,1),(32,-1),(35,1),(40,0),(45,0),(50,0),(70,0)],
    [(-5,0),(15,0),(18,1),(20,0),(22,6),(24,9),(26,-3),(28,-12),(30,-2),(32,4),(34,-1),(36,1),(38,-1),(40,1),(43,0),(46,1),(50,0),(55,0),(70,0)],
    [(-5,0),(15,0),(20,1),(22,3),(24,2),(26,-2),(27.5,-6),(29,4),(30.5,-3),(32,1),(34,-1),(36,0),(40,1),(45,0),(50,0),(70,0)],
    [(-5,0),(15,0),(20,0),(22,-1),(24,4),(26,-1),(28,1),(30,0),(33,0),(36,1),(40,0),(45,0),(70,0)],
    [(-5,0),(15,0),(20,0),(25,0),(27,-4),(29,1),(31,0),(34,1),(37,-1),(40,0),(44,1),(48,0),(52,0),(56,1),(60,0),(70,0)],
    [(-5,0),(15,0),(20,1),(23,3),(25,1),(28,-3),(30,-5),(32,1),(34,3),(36,-1),(38,1),(40,-1),(43,1),(46,0),(50,1),(55,0),(60,0),(70,0)],
    [(-5,0),(15,0),(25,0),(28,-1),(30,2),(32,-1),(34,1),(36,-1),(38,2),(40,-1),(43,1),(46,0),(50,1),(55,0),(60,0),(70,0)],
    [(-5,0),(15,0),(20,0),(22,3),(24,5),(26,2),(28,-3),(30,-8),(31.5,-12),(33,0),(35,10),(37,0),(39,-3),(41,6),(43,0),(45,-1),(48,0),(52,0),(56,0),(60,0),(64,0),(70,0)],
    [(-5,0),(15,0),(20,1),(24,5),(26,3),(28,0),(30,-2),(32,-6),(34,5),(36,2),(38,0),(40,2),(42,-1),(45,1),(48,0),(52,0),(56,1),(60,0),(70,0)],
    [(-5,0),(15,0),(20,0),(22,2),(24,-1),(26,1),(28,-1),(30,-2),(33,-3),(36,0),(40,1),(44,0),(48,1),(52,0),(56,1),(60,0),(70,0)],
    [(-5,0),(15,0),(20,1),(22,3),(24,0),(26,1),(28,-1),(30,1),(32,0),(35,1),(38,0),(40,1),(44,0),(48,1),(52,0),(56,1),(60,0),(70,0)],
    [(-5,0),(20,0),(30,0),(32,1),(34,-2),(36,3),(38,-3),(40,2),(42,-1),(44,1),(46,-1),(48,2),(50,-1),(52,1),(55,0),(58,1),(62,0),(66,1),(70,0)],
    [(-5,0),(15,0),(20,0),(22,-1),(25,-3),(28,0),(30,-1),(32,2),(34,1),(36,-2),(38,1),(40,2),(42,0),(45,1),(48,0),(52,1),(56,0),(70,0)],
    [(-5,0),(15,0),(25,0),(28,2),(31,5),(33,7),(35,-3),(36.5,-10),(38,0),(40,8),(42,1),(44,-1),(46,2),(48,-1),(50,1),(53,0),(56,1),(60,0),(70,0)],
    [(-5,0),(15,0),(25,0),(28,-1),(30,1),(32,-1),(34,2),(36,-2),(38,1),(40,-1),(42,2),(44,0),(46,1),(48,-1),(50,1),(55,0),(60,0),(70,0)],
]
E3_obs = [
    [(-5,0),(15,0),(20,-1),(22,1),(24,-2),(26,2),(28,-2),(30,4),(32,-2),(34,4),(36,-2),(38,1),(40,-1),(43,1),(46,0),(50,0),(70,0)],
    [(-5,0),(15,0),(20,1),(22,5),(24,-2),(26,2),(28,-3),(30,1),(32,3),(34,-2),(36,4),(38,-1),(40,2),(42,-1),(45,1),(48,0),(52,1),(56,0),(60,1),(70,0)],
    [(-5,0),(15,0),(20,1),(22,3),(24,-1),(25.5,8),(27,-2),(29,-12),(30.5,2),(32,5),(34,-1),(36,0),(38,-3),(40,1),(43,0),(46,1),(50,0),(55,1),(60,0),(70,0)],
    [(-5,0),(15,0),(20,1),(22,-1),(24,-4),(25.5,3),(27,9),(29,2),(31,-4),(33,1),(35,-1),(37,1),(40,0),(43,1),(46,0),(50,1),(55,0),(60,0),(70,0)],
    [(-5,0),(15,0),(20,0),(22,-1),(24,4),(26,-1),(28,3),(30,-4),(32,1),(34,-2),(36,1),(38,-1),(40,1),(44,-1),(48,1),(52,0),(56,1),(60,-1),(64,1),(68,-1),(70,0)],
    [(-5,0),(15,0),(22,0),(25,-2),(27,-6),(28.5,3),(30,10),(32,3),(34,-2),(36,-4),(38,0),(40,1),(44,0),(48,0),(52,1),(56,0),(60,0),(70,0)],
    [(-5,0),(15,0),(22,0),(24,1),(26,-1),(28,2),(30,-1),(32,1),(34,-2),(36,1),(38,0),(42,1),(46,0),(50,0),(70,0)],
    [(-5,0),(15,0),(22,0),(24,-2),(26,-4),(28,4),(29.5,10),(31,0),(33,-4),(35,-1),(37,1),(40,-1),(43,1),(46,0),(50,1),(55,0),(60,0),(70,0)],
    [(-5,0),(15,0),(20,0),(22,2),(24,-1),(26,2),(28,3),(30,-2),(32,-3),(34,3),(36,1),(38,-1),(40,0),(42,3),(44,-1),(46,2),(48,-1),(50,2),(52,-1),(54,2),(56,0),(60,1),(64,0),(70,0)],
    [(-5,0),(15,0),(20,1),(24,1),(26,-2),(28,4),(30,-3),(32,5),(34,-1),(36,-2),(38,1),(40,0),(44,1),(48,0),(52,1),(56,0),(60,0),(70,0)],
    [(-5,0),(15,0),(20,1),(22,3),(24,-1),(26,4),(28,-1),(30,-3),(32,-5),(34,-1),(36,4),(38,1),(40,-1),(42,1),(45,0),(48,1),(52,0),(56,1),(60,0),(70,0)],
    [(-5,0),(15,0),(20,-1),(22,3),(24,-1),(26,4),(28,-2),(30,-1),(32,-4),(34,2),(36,1),(38,0),(40,1),(43,0),(46,1),(50,0),(54,1),(58,0),(62,1),(70,0)],
    [(-5,0),(15,0),(22,0),(24,-1),(26,-3),(27.5,2),(29,-5),(31,2),(33,8),(35,2),(37,-2),(39,-4),(41,0),(43,1),(46,0),(50,1),(55,0),(60,1),(70,0)],
    [(-5,0),(15,0),(20,0),(22,2),(24,1),(26,-1),(28,1),(30,2),(32,-2),(34,6),(36,-5),(38,-1),(40,1),(44,0),(48,1),(52,0),(56,1),(60,0),(70,0)],
    [(-5,0),(15,0),(22,0),(26,-1),(28,1),(30,-2),(32,-1),(34,6),(36,0),(38,-3),(40,0),(43,1),(45,-1),(47,2),(50,0),(53,1),(56,0),(60,1),(70,0)],
    [(-5,0),(15,0),(22,0),(25,-1),(27,2),(29,-3),(31,-7),(33,5),(35,9),(37,2),(39,-3),(41,-6),(43,1),(45,0),(47,1),(50,0),(53,1),(56,0),(60,1),(70,0)],
]
E1_syn = list(E1_obs)
E2_syn = list(E2_obs)
E3_syn = list(E3_obs)
E1_syn[5] = [(-5,0),(12,0),(15,1),(18,-1),(20,-3),(22,6),(24,-4),(26,-2),(28,4),(30,-2),(32,1),(34,-1),(36,1),(40,0),(45,0),(50,1),(55,0),(60,0),(70,0)]
E1_syn[6] = [(-5,0),(18,0),(22,3),(24,1),(27,-5),(30,-1),(33,2),(35,-3),(38,0),(42,1),(46,0),(70,0)]
E2_syn[6] = [(-5,0),(18,0),(22,3),(24.3,6),(27,0),(29,-4),(32,-7),(34,2),(36,-1),(38,1),(42,0),(70,0)]
E2_syn[12] = [(-5,0),(20,0),(29,0),(31,5),(33,-2),(36.5,5),(38,-3),(40,3),(42,-1),(44,2),(46,-1),(48,2),(50,-1),(52,1),(55,0),(58,1),(62,0),(66,1),(70,0)]
E3_syn[6] = [(-5,0),(15,0),(22,0),(24,3),(26,-1),(28,2),(30,-3),(32,5),(34,-3),(36,1),(38,0),(42,1),(46,0),(50,0),(70,0)]

# ---------------- drawing ----------------
W, H = 1086, 1059
fig = plt.figure(figsize=(W / 100, H / 100), dpi=100)
RED = '#f0141e'


def draw_column(x0, px_per_s, tmin, tmax, top, axis_y, base0, step, names, labels, obs, syn,
                major, minor, fs, lw_syn, lw_obs, dname, dlab, tick_fs=6.5):
    left = x0 + tmin * px_per_s
    right = x0 + tmax * px_per_s
    ax = fig.add_axes([left / W, 1 - axis_y / H, (right - left) / W, (axis_y - top) / H])
    rows = []
    for i, (o, s) in enumerate(zip(obs, syn)):
        base = base0 + i * step
        rows += [('syn', i, t, base - a) for t, a in s]
        rows += [('obs', i, t, base - a) for t, a in o]
    df = pd.DataFrame(rows, columns=['kind', 'trace', 't', 'y'])
    sns.lineplot(data=df[df.kind == 'syn'], x='t', y='y', units='trace', estimator=None,
                 sort=False, color=RED, lw=lw_syn, ax=ax, solid_joinstyle='round')
    sns.lineplot(data=df[df.kind == 'obs'], x='t', y='y', units='trace', estimator=None,
                 sort=False, color='black', lw=lw_obs, ax=ax, solid_joinstyle='round')
    trans = mtransforms.blended_transform_factory(ax.transAxes, ax.transData)
    for i, (n, l) in enumerate(zip(names, labels)):
        base = base0 + i * step
        ax.text(0.03, base - dname, n, transform=trans, fontsize=fs, color='#333333', va='bottom', ha='left')
        ax.text(0.03, base + dlab, l, transform=trans, fontsize=fs, color='#333333', va='top', ha='left')
    ax.set_xlim(tmin, tmax)
    ax.set_ylim(axis_y, top)
    ax.set_xlabel('')
    ax.set_ylabel('')
    ax.set_yticks([])
    for s in ['top', 'left', 'right']:
        ax.spines[s].set_visible(False)
    ax.spines['bottom'].set_linewidth(1.6)
    ax.spines['bottom'].set_color('#222222')
    ax.patch.set_alpha(0)
    ax.xaxis.set_major_locator(MultipleLocator(major))
    ax.xaxis.set_minor_locator(MultipleLocator(minor))
    ax.tick_params(axis='x', which='both', direction='out', length=3 if tick_fs > 6 else 2, width=1,
                   color='#222222', labelsize=tick_fs, labelcolor='#333333',
                   pad=2 if tick_fs > 6 else 0.5, bottom=True)
    return ax


# panel A
draw_column(47, 2.6, -5, 30, 5, 495, 48, 37.5, A1_sta, A1_lab, A1_obs, A1_syn, 10, 5, 5.3, 1.3, 1.4, 3, 6)
draw_column(157, 2.6, -5, 30, 5, 495, 54, 36.9, A2_sta, A2_lab, A2_obs, A2_syn, 10, 5, 5.3, 1.3, 1.4, 3, 6)
draw_column(267, 2.6, -5, 30, 5, 495, 60, 47.3, A3_sta, A3_lab, A3_obs, A3_syn, 10, 5, 5.3, 1.3, 1.4, 3, 6)
# panel B
draw_column(419, 2.62, -5, 30, 5, 495, 57, 43.8, B1_sta, B1_lab, B1_obs, B1_syn, 10, 5, 5.3, 1.3, 1.4, 3, 6)
draw_column(530, 2.62, -5, 30, 5, 495, 55, 44.0, B2_sta, B2_lab, B2_obs, B2_syn, 10, 5, 5.3, 1.3, 1.4, 3, 6)
draw_column(640, 2.62, -5, 30, 5, 495, 65, 54.0, B3_sta, B3_lab, B3_obs, B3_syn, 10, 5, 5.3, 1.3, 1.4, 3, 6)
# panel C
draw_column(792, 2.28, -5, 35, 5, 495, 43, 32.3, C1_sta, C1_lab, C1_obs, C1_syn, 10, 5, 5.0, 1.3, 1.4, 3, 5)
draw_column(902, 2.28, -5, 35, 5, 495, 46, 31.7, C2_sta, C2_lab, C2_obs, C2_syn, 10, 5, 5.0, 1.3, 1.4, 3, 5)
draw_column(1012, 2.28, -5, 35, 5, 495, 48, 40.2, C3_sta, C3_lab, C3_obs, C3_syn, 10, 5, 5.0, 1.3, 1.4, 3, 5)
# panel D
draw_column(37, 1.233, -5, 70, 560, 1047, 602, 40.4, D_sta, D_lab, D1_obs, D1_syn, 20, 10, 4.3, 2.0, 1.3, 4, 5, 5.3)
draw_column(148, 1.233, -5, 70, 560, 1047, 602, 40.4, D_sta, D_lab, D2_obs, D2_syn, 20, 10, 4.3, 2.0, 1.3, 4, 5, 5.3)
draw_column(258, 1.233, -5, 70, 560, 1047, 602, 40.4, D_sta, D_lab, D3_obs, D3_syn, 20, 10, 4.3, 2.0, 1.3, 4, 5, 5.3)
# panel E
draw_column(413, 1.233, -5, 70, 560, 1047, 592, 28.4, E_sta, E_lab, E1_obs, E1_syn, 20, 10, 4.3, 2.0, 1.3, 3, 3.5, 5.3)
draw_column(523, 1.233, -5, 70, 560, 1047, 592, 28.4, E_sta, E_lab, E2_obs, E2_syn, 20, 10, 4.3, 2.0, 1.3, 3, 3.5, 5.3)
draw_column(634, 1.233, -5, 70, 560, 1047, 592, 28.4, E_sta, E_lab, E3_obs, E3_syn, 20, 10, 4.3, 2.0, 1.3, 3, 3.5, 5.3)

for letter, x, y in [('(A)', 8, 22), ('(B)', 385, 22), ('(C)', 757, 22), ('(D)', 8, 572), ('(E)', 386, 572)]:
    fig.text(x / W, 1 - y / H, letter, fontsize=13.5, color='#111111', va='center', ha='left')

fig.savefig('out.png', dpi=100)
